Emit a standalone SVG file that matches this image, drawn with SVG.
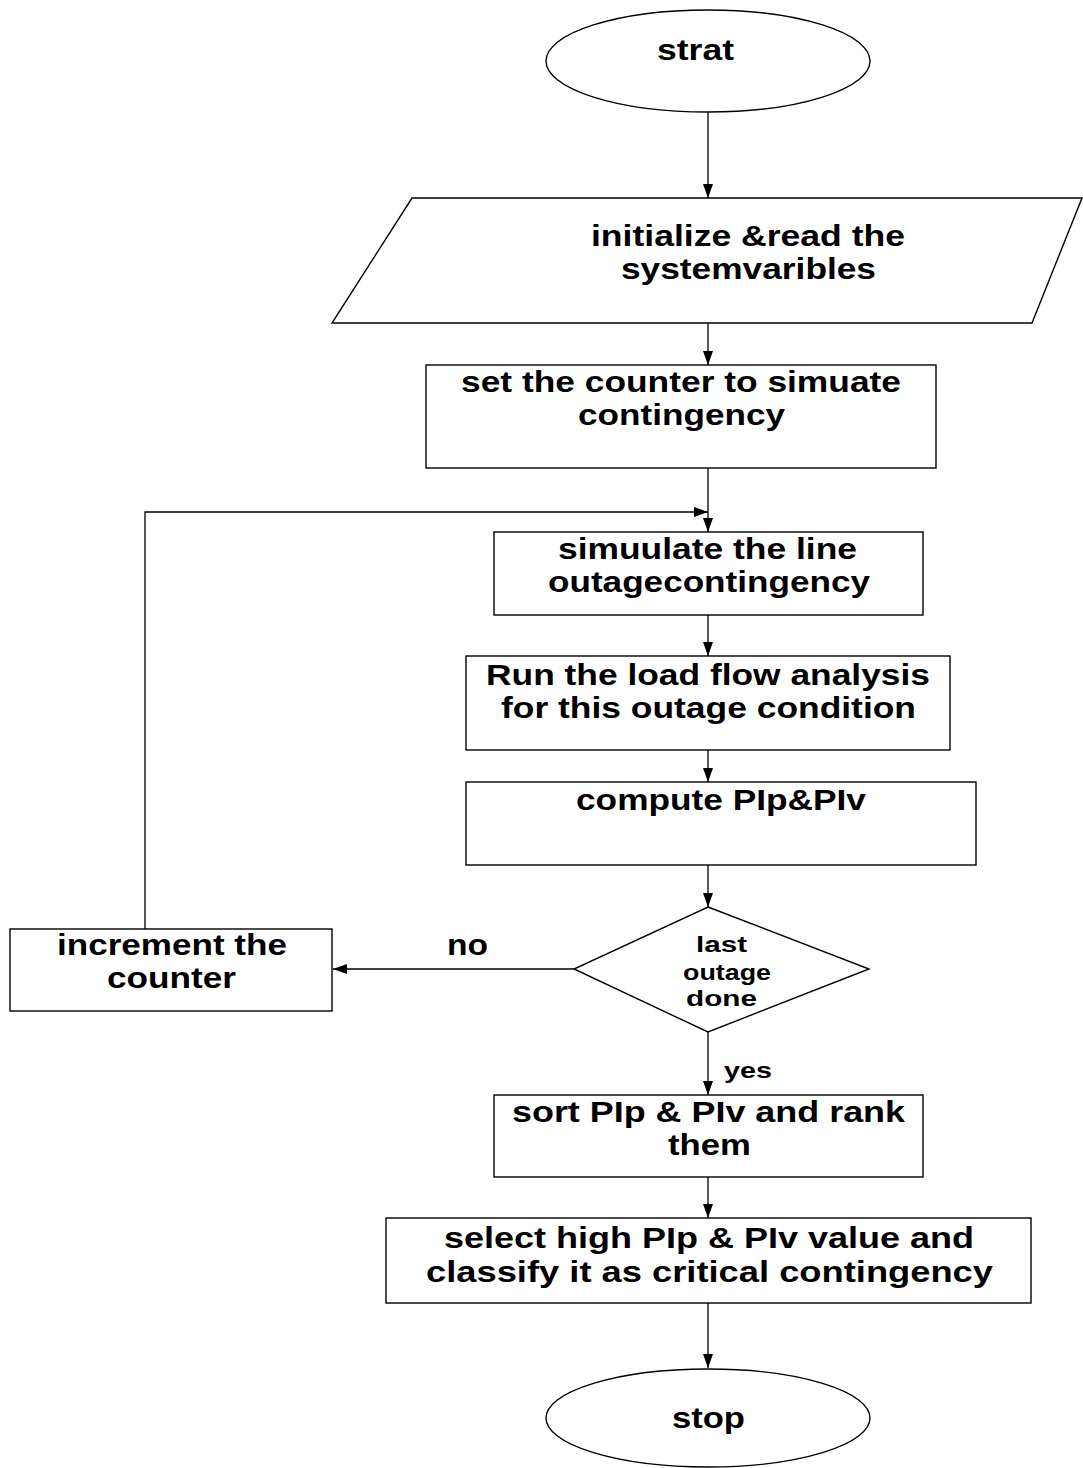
<svg xmlns="http://www.w3.org/2000/svg" width="1083" height="1468" viewBox="0 0 1083 1468">
<style>
.s{fill:#fff;stroke:#000;stroke-width:1.4}
.t{font-family:"Liberation Sans",Arial,sans-serif;font-weight:bold;font-size:29px;fill:#000;text-anchor:middle}
.d{font-size:22px}
.c{fill:none;stroke:#000;stroke-width:1.3}
</style>
<defs>
<marker id="ah" viewBox="0 0 14 10" refX="14" refY="5" markerWidth="14" markerHeight="10" markerUnits="userSpaceOnUse" orient="auto">
<path d="M0,0 L14,5 L0,10 Z" fill="#000"/>
</marker>
</defs>
<rect width="1083" height="1468" fill="#fff"/>
<g id="connectors">
<line class="c" x1="708" y1="112" x2="708" y2="198" marker-end="url(#ah)"/>
<line class="c" x1="708" y1="323" x2="708" y2="365" marker-end="url(#ah)"/>
<line class="c" x1="708" y1="468" x2="708" y2="532" marker-end="url(#ah)"/>
<polyline class="c" points="145,929 145,512 708,512" marker-end="url(#ah)"/>
<line class="c" x1="708" y1="615" x2="708" y2="656" marker-end="url(#ah)"/>
<line class="c" x1="708" y1="750" x2="708" y2="782" marker-end="url(#ah)"/>
<line class="c" x1="708" y1="865" x2="708" y2="907" marker-end="url(#ah)"/>
<line class="c" x1="574" y1="969" x2="333" y2="969" marker-end="url(#ah)"/>
<line class="c" x1="708" y1="1032" x2="708" y2="1095" marker-end="url(#ah)"/>
<line class="c" x1="708" y1="1177" x2="708" y2="1218" marker-end="url(#ah)"/>
<line class="c" x1="708" y1="1303" x2="708" y2="1368" marker-end="url(#ah)"/>
<text class="t" x="467.5" y="955" textLength="41" lengthAdjust="spacingAndGlyphs">no</text>
<text class="t d" x="748" y="1078" textLength="48" lengthAdjust="spacingAndGlyphs">yes</text>
</g>
<g id="start">
<ellipse class="s" cx="708" cy="61" rx="162" ry="51"/>
<text class="t" x="695.5" y="60" textLength="77" lengthAdjust="spacingAndGlyphs">strat</text>
</g>
<g id="init">
<polygon class="s" points="412,198 1082,198 1032,323 332,323"/>
<text class="t" x="748" y="246" textLength="314" lengthAdjust="spacingAndGlyphs">initialize &amp;read the</text>
<text class="t" x="748.5" y="279" textLength="255" lengthAdjust="spacingAndGlyphs">systemvaribles</text>
</g>
<g id="setcounter">
<rect class="s" x="426" y="365" width="510" height="103"/>
<text class="t" x="681" y="392" textLength="440" lengthAdjust="spacingAndGlyphs">set the counter to simuate</text>
<text class="t" x="681.5" y="425" textLength="207" lengthAdjust="spacingAndGlyphs">contingency</text>
</g>
<g id="simulate">
<rect class="s" x="494" y="532" width="429" height="83"/>
<text class="t" x="707.5" y="559" textLength="299" lengthAdjust="spacingAndGlyphs">simuulate the line</text>
<text class="t" x="709" y="592" textLength="322" lengthAdjust="spacingAndGlyphs">outagecontingency</text>
</g>
<g id="loadflow">
<rect class="s" x="466" y="656" width="484" height="94"/>
<text class="t" x="708" y="685" textLength="444" lengthAdjust="spacingAndGlyphs">Run the load flow analysis</text>
<text class="t" x="708.5" y="718" textLength="415" lengthAdjust="spacingAndGlyphs">for this outage condition</text>
</g>
<g id="compute">
<rect class="s" x="466" y="782" width="510" height="83"/>
<text class="t" x="721" y="810" textLength="290" lengthAdjust="spacingAndGlyphs">compute PIp&amp;PIv</text>
</g>
<g id="decision">
<polygon class="s" points="708,907 869,969 708,1032 574,969"/>
<text class="t d" x="721.5" y="952" textLength="51" lengthAdjust="spacingAndGlyphs">last</text>
<text class="t d" x="727" y="980" textLength="88" lengthAdjust="spacingAndGlyphs">outage</text>
<text class="t d" x="721.5" y="1006" textLength="71" lengthAdjust="spacingAndGlyphs">done</text>
</g>
<g id="increment">
<rect class="s" x="10" y="929" width="322" height="82"/>
<text class="t" x="172" y="955" textLength="230" lengthAdjust="spacingAndGlyphs">increment the</text>
<text class="t" x="171.5" y="988" textLength="129" lengthAdjust="spacingAndGlyphs">counter</text>
</g>
<g id="sort">
<rect class="s" x="494" y="1095" width="429" height="82"/>
<text class="t" x="708.5" y="1122" textLength="393" lengthAdjust="spacingAndGlyphs">sort PIp &amp; PIv and rank</text>
<text class="t" x="709.5" y="1155" textLength="83" lengthAdjust="spacingAndGlyphs">them</text>
</g>
<g id="select">
<rect class="s" x="386" y="1218" width="645" height="85"/>
<text class="t" x="709" y="1248" textLength="530" lengthAdjust="spacingAndGlyphs">select high PIp &amp; PIv value and</text>
<text class="t" x="709.5" y="1282" textLength="567" lengthAdjust="spacingAndGlyphs">classify it as critical contingency</text>
</g>
<g id="stop">
<ellipse class="s" cx="708" cy="1418" rx="162" ry="49"/>
<text class="t" x="708.5" y="1428" textLength="73" lengthAdjust="spacingAndGlyphs">stop</text>
</g>
</svg>
